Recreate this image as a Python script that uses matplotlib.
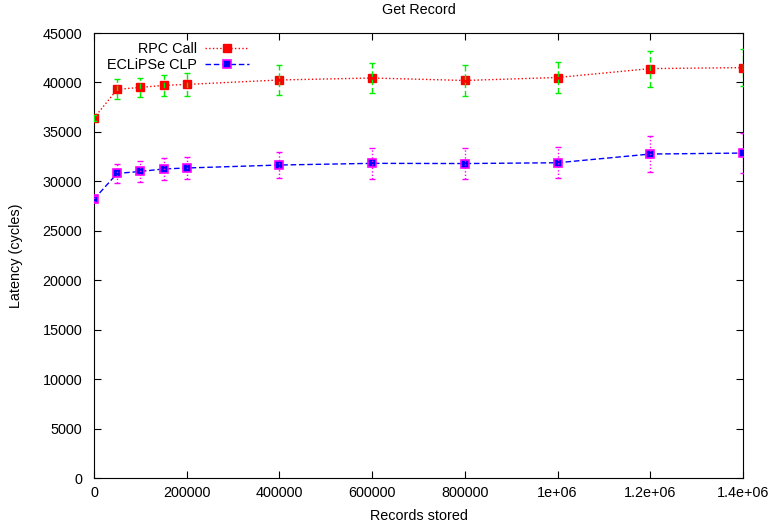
import numpy as np
import matplotlib.pyplot as plt

plt.rcParams['font.family'] = ['Liberation Sans', 'DejaVu Sans']

# Records stored
records = [0, 50000, 100000, 150000, 200000, 400000, 600000, 800000, 1000000, 1200000, 1400000]

# RPC Call latency and error
rpc = [36400, 39300, 39500, 39700, 39800, 40250, 40450, 40200, 40500, 41400, 41500]
rpc_err = [300, 1000, 1000, 1100, 1150, 1470, 1500, 1580, 1550, 1830, 1900]

# ECLiPSe CLP latency and error
clp = [28200, 30800, 31000, 31250, 31350, 31650, 31820, 31800, 31880, 32760, 32860]
clp_err = [300, 980, 1040, 1160, 1160, 1300, 1550, 1570, 1550, 1830, 2000]

xticks = [0, 200000, 400000, 600000, 800000, 1000000, 1200000, 1400000]
xticklabels = ['0', '200000', '400000', '600000', '800000', '1e+06', '1.2e+06', '1.4e+06']

fs = 10.4

fig = plt.figure(figsize=(7.75, 5.23), dpi=100)
ax = fig.add_axes([0.1213, 0.086, 0.8374, 0.8509])

ax.plot(records, rpc, color='red', linestyle=':', linewidth=1,
        marker='s', markersize=5.5, markerfacecolor='red', markeredgecolor='red',
        label='RPC Call', zorder=3)
eb = ax.errorbar(records, rpc, yerr=rpc_err, fmt='none', ecolor='#00ee00',
                 elinewidth=1, capsize=2.2, capthick=1, zorder=4)
eb[2][0].set_linestyle((0, (4, 2)))

ax.plot(records, clp, color='blue', linestyle=(0, (4, 2)), linewidth=1,
        marker='s', markersize=5.5, markerfacecolor='blue', markeredgecolor='#ff00ff',
        markeredgewidth=1.2, label='ECLiPSe CLP', zorder=3)
eb2 = ax.errorbar(records, clp, yerr=clp_err, fmt='none', ecolor='#ff00ff',
                  elinewidth=1, capsize=2.2, capthick=1, zorder=4)
eb2[2][0].set_linestyle((0, (1, 1.5)))

ax.set_xlim(0, 1400000)
ax.set_ylim(0, 45000)
ax.set_xticks(xticks)
ax.set_xticklabels(xticklabels)
ax.set_yticks(np.arange(0, 45001, 5000))
ax.tick_params(direction='in', top=True, right=True, length=5, labelsize=fs)
ax.tick_params(axis='x', pad=6)
ax.tick_params(axis='y', pad=8.5)

ax.set_title('Get Record', fontsize=fs, pad=14)
ax.set_xlabel('Records stored', fontsize=fs, labelpad=6)
ax.set_ylabel('Latency (cycles)', fontsize=fs, labelpad=14)

ax.legend(loc='upper left', bbox_to_anchor=(0.005, 1.0), frameon=False,
          markerfirst=False, fontsize=fs, handlelength=3.0,
          labelspacing=0.12, borderpad=0.15, handletextpad=0.6)

fig.savefig('out.png', dpi=100)
